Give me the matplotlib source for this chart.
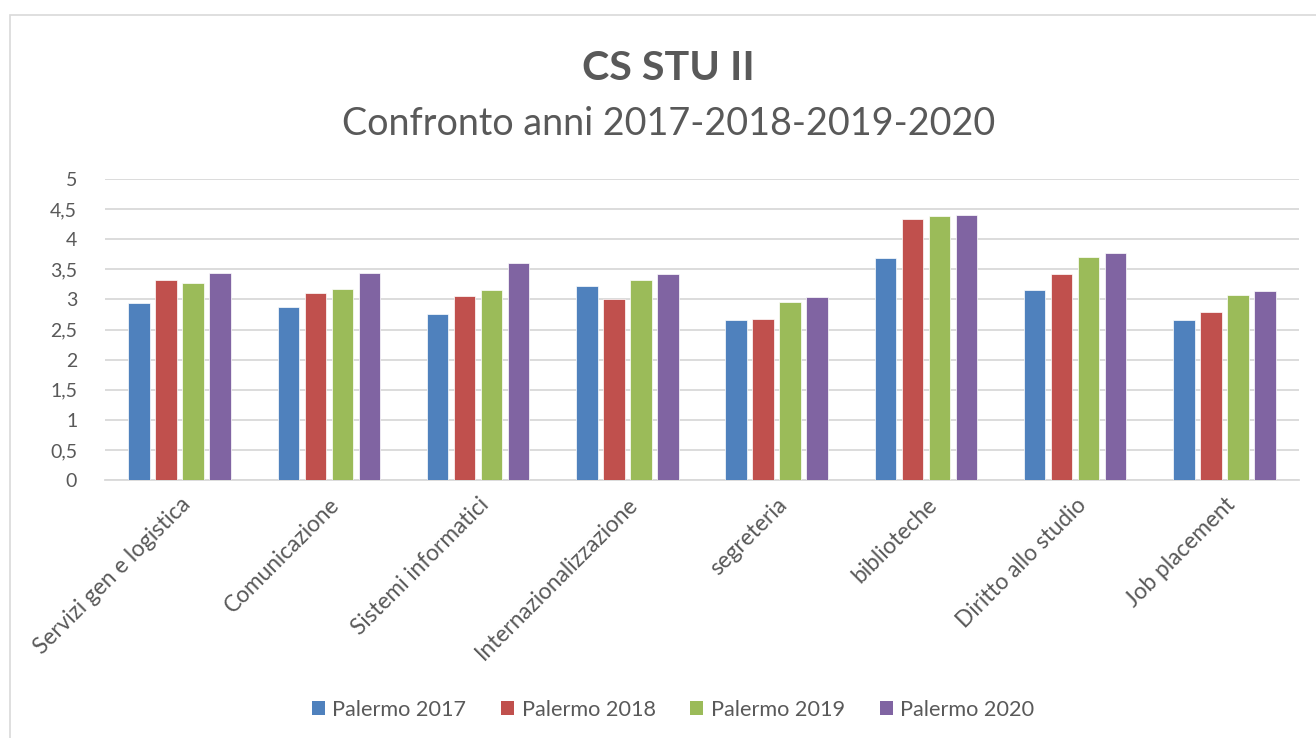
import numpy as np
import matplotlib
matplotlib.use('Agg')
import matplotlib.pyplot as plt
from matplotlib.patches import Rectangle, Patch
from matplotlib.ticker import FuncFormatter

# Data
categories = ['Servizi gen e logistica', 'Comunicazione', 'Sistemi informatici',
              'Internazionalizzazione', 'segreteria', 'biblioteche',
              'Diritto allo studio', 'Job placement']
palermo_2017 = [2.94, 2.87, 2.75, 3.23, 2.65, 3.69, 3.15, 2.65]
palermo_2018 = [3.33, 3.10, 3.05, 3.01, 2.67, 4.34, 3.42, 2.79]
palermo_2019 = [3.27, 3.17, 3.16, 3.32, 2.95, 4.39, 3.70, 3.08]
palermo_2020 = [3.44, 3.44, 3.60, 3.43, 3.04, 4.41, 3.77, 3.14]
series_names = ['Palermo 2017', 'Palermo 2018', 'Palermo 2019', 'Palermo 2020']
colors = ['#4F81BD', '#C0504D', '#9BBB59', '#8064A2']

plt.rcParams['font.family'] = ['Lato', 'DejaVu Sans']
text_col = '#595959'
grid_col = '#D9D9D9'

W, H = 1316, 738
fig = plt.figure(figsize=(W / 100, H / 100), dpi=100)

# light chart-area border
fig.patches.append(Rectangle((10 / W, -0.1), 1.2, 1 - 15 / H + 0.1, transform=fig.transFigure,
                             fill=False, edgecolor=grid_col, linewidth=1.2))

ax = fig.add_axes([105 / W, 1 - 480 / H, (1299 - 105) / W, (480 - 179) / H])

x = np.arange(len(categories))
width = 0.143
step = 0.181
series = [palermo_2017, palermo_2018, palermo_2019, palermo_2020]
for i, vals in enumerate(series):
    ax.bar(x + (i - 1.5) * step, vals, width, color=colors[i], edgecolor='white',
           linewidth=0.5, zorder=3, label=series_names[i])

ax.set_xlim(-0.5, len(categories) - 0.5)
ax.set_ylim(0, 5)
ax.set_yticks(np.arange(0, 5.01, 0.5))
ax.yaxis.set_major_formatter(FuncFormatter(lambda v, p: ('%g' % v).replace('.', ',')))
ax.grid(axis='y', color=grid_col, linewidth=1.3, zorder=0)
for s in ['top', 'right', 'left']:
    ax.spines[s].set_visible(False)
ax.spines['bottom'].set_color(grid_col)
ax.spines['bottom'].set_linewidth(1.3)
ax.tick_params(axis='both', length=0, labelcolor=text_col)
ax.tick_params(axis='y', pad=20, labelsize=14)
ax.tick_params(axis='x', pad=10, labelsize=16.3)
ax.set_xticks(x)
ax.set_xticklabels(categories, rotation=45, ha='right', rotation_mode='anchor')

# titles
fig.text(668 / W, 1 - 68 / H, 'CS STU II', ha='center', va='center',
         fontsize=29.7, fontweight='bold', color=text_col)
fig.text(669 / W, 1 - 124 / H, 'Confronto anni 2017-2018-2019-2020', ha='center',
         va='center', fontsize=27.2, color=text_col)

handles = [Patch(facecolor=c, edgecolor='none') for c in colors]
leg = fig.legend(handles, series_names, loc='center', bbox_to_anchor=(673 / W, 1 - 710 / H),
                 ncol=4, frameon=False, fontsize=15.6, handlelength=0.6, handleheight=0.6,
                 handletextpad=0.35, columnspacing=1.6)
for t in leg.get_texts():
    t.set_color(text_col)

fig.savefig('out.png', dpi=100, facecolor='white')
